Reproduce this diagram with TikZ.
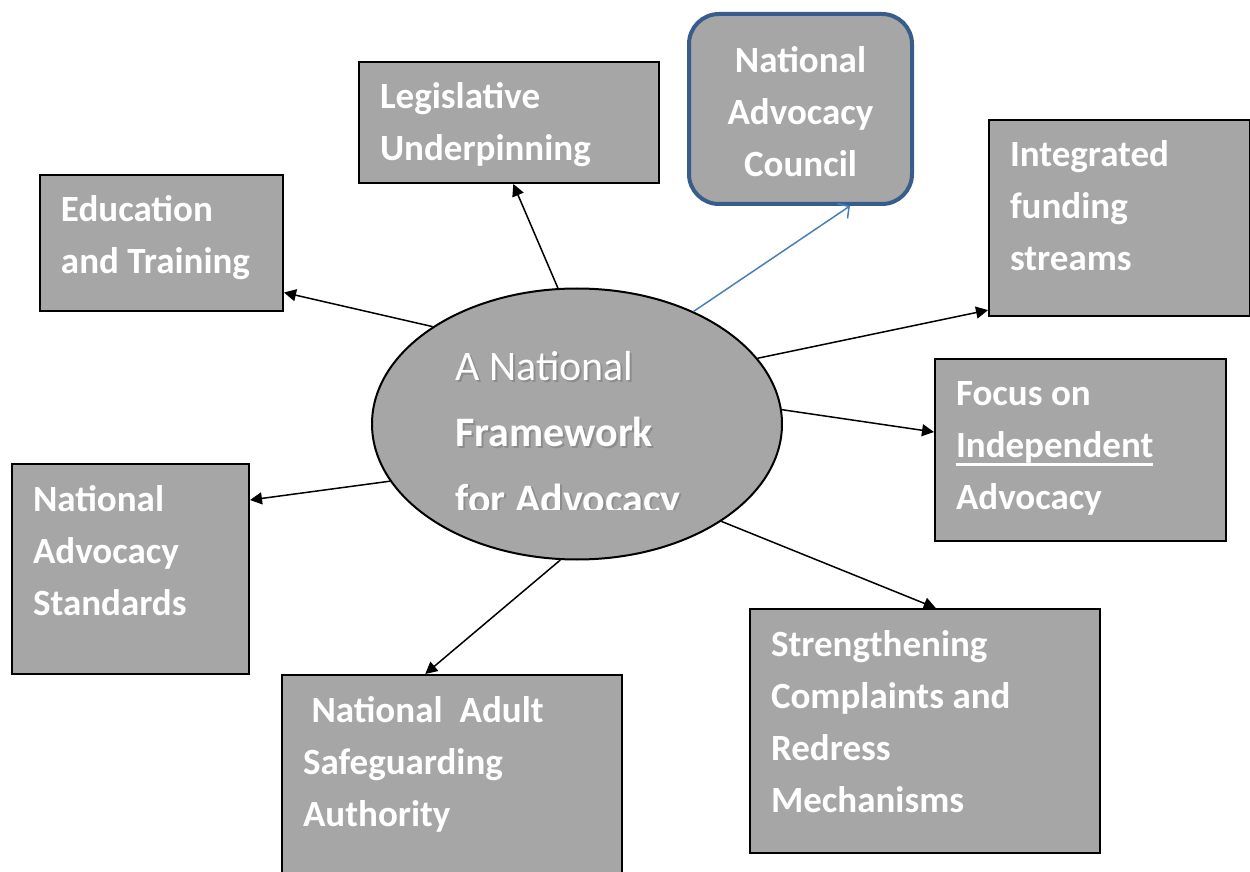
\documentclass[tikz,border=0pt]{standalone}
\usepackage{fontspec}
\setmainfont{Carlito}
\usetikzlibrary{arrows.meta,shapes.geometric}
\definecolor{boxgray}{RGB}{166,166,166}
\definecolor{councilblue}{RGB}{56,93,138}
\definecolor{linkblue}{RGB}{74,126,187}
\newcommand{\shadowed}[1]{\makebox[0pt][l]{\hspace{1pt}\raisebox{-1pt}{\textcolor{black!45}{#1}}}#1}
\newcommand{\lowline}[1]{\leavevmode\setbox0\hbox{#1}\rlap{\rule[-4.25pt]{\wd0}{1.5pt}}\box0}
\newcommand{\tightspace}{\spaceskip=0.23em plus 0pt minus 0pt\relax}

\begin{document}
\begin{tikzpicture}[x=0.5pt, y=-0.5pt,
		execute at begin node={\tightspace},
		box/.style 2 args={draw, line width=1pt, fill=boxgray, anchor=north west, align=left,
			text=white, font=\bfseries\fontsize{18.5}{26}\selectfont,
			inner xsep=10.5pt, inner ysep=0pt, text width=#1, text height=23.5pt, text depth=#2},
		arr/.style={line width=0.75pt, -{Triangle[length=6pt,width=6pt]}},
		link/.style={line width=0.75pt, draw=linkblue, -{Straight Barb[length=4pt,width=9pt]}}]
	\useasboundingbox (0,0) rectangle (1250,872);
	\clip (0,0) rectangle (1250,872);

	\node[ellipse, draw, line width=1pt, fill=boxgray, minimum width=205pt, minimum height=135.5pt, inner sep=0pt] (frame) at (577,424) {};
	\begin{scope}
		\clip (440,330) rectangle (720,509);
		\node[anchor=base west, inner sep=0pt, align=left, text width=150pt, text=white, font=\fontsize{21}{33.25}\selectfont] (title) at (455,380)
			{\shadowed{A National}\\ \shadowed{\textbf{Framework}}\\ \shadowed{\textbf{for Advocacy}}};
	\end{scope}

	\node[box={129pt}{37pt}] (leg) at (358,61) {Legislative\\Underpinning};
	\node[box={100.5pt}{44.5pt}] (edu) at (39,174) {Education\\and Training};
	\node[box={109.5pt}{74.5pt}] (fund) at (988,119) {Integrated\\funding\\streams};
	\node[box={124.5pt}{67.5pt}] (indep) at (934,358) {Focus on\\\lowline{Independent}\\Advocacy};
	\node[box={97.5pt}{81.5pt}] (std) at (11,463) {National\\Advocacy\\Standards};
	\node[box={149pt}{91.5pt}] (safe) at (281,674) {\ National\ \ Adult\\Safeguarding\\Authority};
	\node[box={154pt}{98.5pt}] (redress) at (749,608) {Strengthening\\Complaints and\\Redress\\Mechanisms};
	\node[draw=councilblue, line width=2pt, rounded corners=15pt, fill=boxgray, minimum width=111.5pt, minimum height=95pt,
		align=center, text=white, font=\bfseries\fontsize{18.5}{26}\selectfont, text height=68pt] (council) at (800.5,109) {National\\Advocacy\\Council};

	\path (frame.98) edge[arr] (leg.-86)
		(frame.146) edge[arr] (edu.-22)
		(frame.20) edge[arr] (fund.215)
		(frame.4) edge[arr] (indep.173)
		(frame.197) edge[arr] (std.30)
		(frame.263) edge[arr] (safe.103)
		(frame.326) edge[arr] (redress.85)
		(frame.44) edge[link] (council.-63);
\end{tikzpicture}
\end{document}
